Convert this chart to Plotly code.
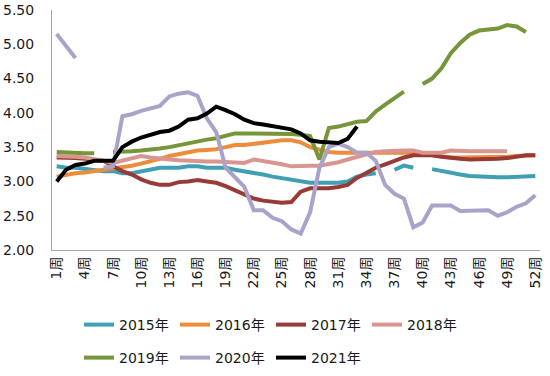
import plotly.graph_objects as go

weeks = [f"{i}周" for i in range(1, 53)]
tick_labels = [f"{i}周" for i in range(1, 53, 3)]
y_ticks = [2.0, 2.5, 3.0, 3.5, 4.0, 4.5, 5.0, 5.5]

N = None
s2015 = [3.22, 3.2, 3.2, 3.18, 3.17, 3.15, 3.15, 3.12, 3.12, 3.15, 3.17, 3.2, 3.2, 3.2, 3.22, 3.22,
         3.2, 3.2, 3.2, 3.17, 3.15, 3.12, 3.1, 3.07, 3.05, 3.03, 3.0, 2.98, 2.98, 2.98, 2.98, 3.0,
         3.07, 3.1, 3.12, N, 3.17, 3.23, 3.2, N, 3.18, 3.15, 3.12, 3.1, 3.08, 3.07, 3.07, 3.06,
         3.06, 3.07, 3.08, 3.08]
s2016 = [3.07, 3.1, 3.12, 3.13, 3.15, 3.17, 3.18, 3.2, 3.23, 3.26, 3.29, 3.33, 3.37, 3.4, 3.43, 3.45,
         3.46, 3.47, 3.5, 3.53, 3.53, 3.55, 3.56, 3.58, 3.6, 3.6, 3.57, 3.5, 3.46, 3.43, 3.42, 3.42,
         3.42, 3.42, 3.42, 3.42, 3.42, 3.42, 3.42, 3.4, 3.38, 3.36, 3.35, 3.35, 3.35, 3.35, 3.35, 3.35,
         3.36, 3.37, 3.38, 3.38]
s2017 = [3.35, 3.35, 3.34, 3.33, 3.32, 3.3, 3.22, 3.15, 3.1, 3.03, 2.98, 2.95, 2.95, 2.99, 3.0, 3.02,
         3.0, 2.98, 2.93, 2.87, 2.8, 2.75, 2.72, 2.7, 2.69, 2.7, 2.85, 2.9, 2.9, 2.9, 2.92, 2.95,
         3.05, 3.12, 3.2, 3.25, 3.3, 3.35, 3.38, 3.38, 3.38, 3.36, 3.34, 3.33, 3.32, 3.32, 3.32, 3.33,
         3.34, 3.36, 3.38, 3.38]
s2018 = [3.37, 3.37, 3.36, 3.35, 3.33, 3.3, 3.27, 3.3, 3.33, 3.37, 3.35, 3.33, 3.32, 3.31, 3.3, 3.29,
         3.29, 3.29, 3.28, 3.27, 3.27, 3.32, 3.3, 3.27, 3.25, 3.22, 3.23, 3.23, 3.23, 3.25, 3.28, 3.32,
         3.36, 3.4, 3.43, 3.44, 3.45, 3.45, 3.45, 3.42, 3.42, 3.42, 3.45, 3.44, 3.44, 3.44, 3.44, 3.44,
         3.44, N, N, N]
s2019 = [3.43, 3.42, 3.42, 3.41, 3.41, N, 3.43, 3.43, 3.44, 3.45, 3.46, 3.48, 3.5, 3.53, 3.56, 3.59,
         3.61, 3.63, 3.67, 3.7, 3.7, 3.7, 3.7, 3.7, 3.7, 3.69, 3.68, 3.66, 3.32, 3.78, 3.8, 3.83,
         3.87, 3.88, 4.02, 4.12, 4.22, 4.31, N, 4.42, 4.5, 4.65, 4.87, 5.02, 5.14, 5.2, 5.22, 5.23,
         5.28, 5.26, 5.18, N]
s2020 = [5.15, 4.98, 4.8, N, N, 3.2, 3.22, 3.95, 3.98, 4.03, 4.07, 4.1, 4.24, 4.28, 4.3, 4.25,
         3.92, 3.72, 3.2, 3.05, 2.92, 2.58, 2.58, 2.47, 2.42, 2.3, 2.24, 2.55, 3.2, 3.5, 3.55, 3.5,
         3.42, 3.42, 3.3, 2.95, 2.82, 2.75, 2.33, 2.4, 2.65, 2.65, 2.65, 2.57, 2.57, 2.57, 2.58, 2.5,
         2.55, 2.63, 2.68, 2.8]
s2021 = [3.0, 3.17, 3.24, 3.26, 3.3, 3.3, 3.3, 3.5, 3.58, 3.64, 3.68, 3.72, 3.74, 3.8, 3.9, 3.92,
         3.99, 4.09, 4.04, 3.98, 3.9, 3.85, 3.83, 3.81, 3.79, 3.76, 3.7, 3.6, 3.58, 3.57, 3.56, 3.62,
         3.8]

series = [
    ("2015年", s2015, "#3fa0b4", "legend"),
    ("2016年", s2016, "#ed8d3c", "legend"),
    ("2017年", s2017, "#983a35", "legend"),
    ("2018年", s2018, "#d9958f", "legend"),
    ("2019年", s2019, "#77963a", "legend2"),
    ("2020年", s2020, "#a9a3c9", "legend2"),
    ("2021年", s2021, "#000000", "legend2"),
]

FONT = "DejaVu Sans, Noto Sans CJK SC, sans-serif"
W, H = 550, 376

fig = go.Figure()
for name, vals, color, lg in series:
    fig.add_trace(go.Scatter(
        x=weeks[:len(vals)], y=vals, name=name, mode="lines",
        line=dict(color=color, width=4), connectgaps=False, legend=lg,
    ))

legend_common = dict(
    orientation="h", xanchor="left", yanchor="middle",
    xref="container", yref="container",
    font=dict(family=FONT, size=14, color="#1a1a1a"),
    bgcolor="rgba(0,0,0,0)", entrywidth=51, entrywidthmode="pixels",
    itemwidth=30, tracegroupgap=0,
)

fig.update_layout(
    width=W, height=H,
    margin=dict(l=52, r=10, t=10, b=126, autoexpand=False),
    paper_bgcolor="white", plot_bgcolor="white",
    showlegend=True,
    legend=dict(x=79 / W, y=1 - 325 / H, **legend_common),
    legend2=dict(x=79 / W, y=1 - 358 / H, **legend_common),
    xaxis=dict(
        type="category", categoryorder="array", categoryarray=weeks,
        tickmode="array", tickvals=tick_labels, ticktext=tick_labels,
        tickangle=-90, showgrid=False, zeroline=False,
        showline=True, linecolor="#a6a6a6", linewidth=1,
        ticks="", tickfont=dict(family=FONT, size=14, color="#1a1a1a"),
        range=[-0.5, 51.5], automargin=False,
    ),
    yaxis=dict(
        range=[2.0, 5.5], tickmode="array", tickvals=y_ticks,
        ticktext=[f"{v:.2f}" for v in y_ticks],
        showgrid=False, zeroline=False, showline=True,
        linecolor="#a6a6a6", linewidth=1, ticks="",
        tickfont=dict(family=FONT, size=14, color="#1a1a1a"),
        ticklabelstandoff=14, automargin=False,
    ),
)

fig.write_html("out.html", config={"displayModeBar": False},
               post_script="document.body.style.margin='0';")
